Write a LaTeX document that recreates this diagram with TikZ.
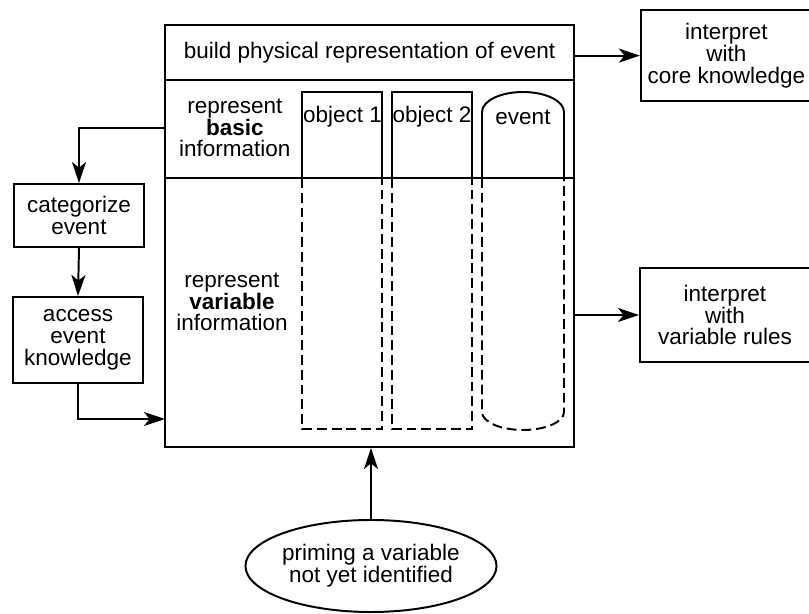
\documentclass[tikz,border=0pt]{standalone}
\usepackage{fontspec}
\setmainfont{Liberation Sans}
\usetikzlibrary{arrows.meta,shapes,positioning}
\tikzset{
  box/.style={draw,line width=1.4pt,align=center,inner sep=0pt},
  arr/.style={line width=1.4pt,-{Stealth[length=15pt,width=10pt,inset=4pt]}},
  col/.style={line width=1.4pt},
  dcol/.style={line width=1.4pt,dash pattern=on 7pt off 3.5pt}
}
\begin{document}
\begin{tikzpicture}[font=\fontsize{16}{15.5}\selectfont]
            \useasboundingbox (0,0) rectangle (20.225,15.35);
            % main frame
            \node[box,minimum width=10.225cm,minimum height=10.55cm] (main) at (9.2375,9.45) {};
            \draw[col] (4.125,13.35)--(14.35,13.35);
            \draw[col] (4.125,10.9)--(14.35,10.9);
            \node (title) at (9.24,14.04) {build physical representation of event};
            \node[align=center] (basic) at (5.87,12.15) {represent\\\textbf{basic}\\information};
            \node[align=center] (variable) at (5.8,7.8) {represent\\\textbf{variable}\\information};
            % columns
            \foreach \x/\lbl/\nm in {7.56/object 1/obj1, 9.8/object 2/obj2}{
              \draw[col] (\x,10.9)--(\x,13.04)--(\x+2,13.04)--(\x+2,10.9);
              \draw[dcol] (\x,10.9)--(\x,4.62)--(\x+2,4.62)--(\x+2,10.9);
              \node[inner sep=0pt] (\nm) at (\x+1,12.425) {\lbl};
            }
            \draw[col] (12.05,10.9)--(12.05,12.55) arc[start angle=180,end angle=0,x radius=1.025,y radius=0.5]--(14.1,10.9);
            \draw[dcol] (12.05,10.9)--(12.05,5.05) arc[start angle=180,end angle=360,x radius=1.025,y radius=0.45]--(14.1,10.9);
            \node (event) at (13.075,12.425) {event};
            % side boxes
            \node[box,minimum width=3.25cm,minimum height=1.575cm] (categorize) at (1.975,9.96) {categorize\\event};
            \node[box,minimum width=3.25cm,minimum height=2.15cm] (access) at (1.95,6.85) {access\\event\\knowledge};
            \node[box,minimum width=4.275cm,minimum height=2.275cm] (core) at (18.16,13.96) {interpret\\with\\core knowledge};
            \node[box,minimum width=4.25cm,minimum height=2.35cm] (rules) at (18.125,7.475) {interpret\\with\\variable rules};
            \node[box,ellipse,minimum width=5.35cm,minimum height=2.3cm] (priming) at (9.275,1.2) {priming a variable\\not yet identified};
            \coordinate (entry) at (4.125,4.875);
            % connectors
            \draw[arr] (main.west |- basic) -| (categorize.north);
            \draw[arr] (categorize.south) -- (access.north);
            \draw[arr] (access.south) |- (entry);
            \draw[arr] (main.east |- core) -- (core.west);
            \draw[arr] (main.east |- rules) -- (rules.west);
            \draw[arr] (priming.north) -- (priming.north |- main.south);
        \end{tikzpicture}
\end{document}
